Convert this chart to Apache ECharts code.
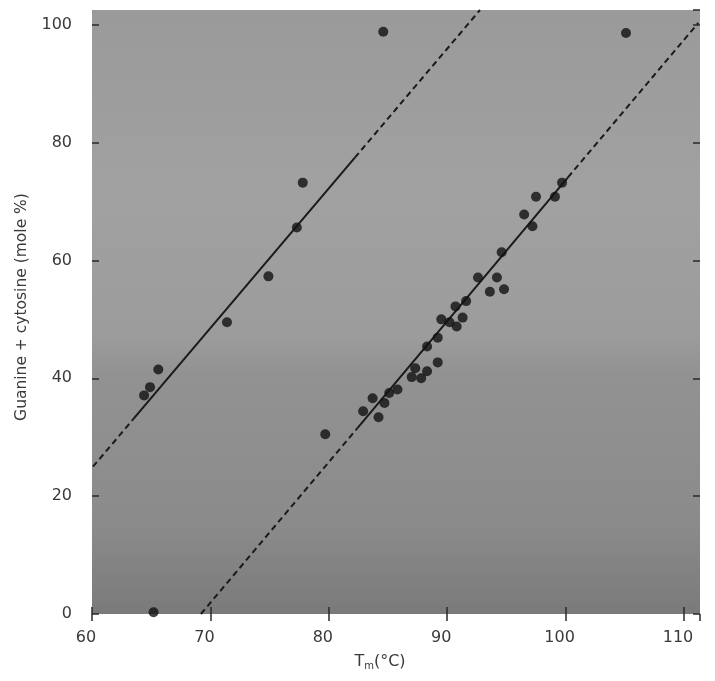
<!DOCTYPE html>
<html>
<head>
<meta charset="utf-8">
<script src="https://cdn.jsdelivr.net/npm/echarts@6/dist/echarts.min.js"></script>
<style>
html,body{margin:0;padding:0;background:#fff;}
#chart{width:715px;height:681px;}
</style>
</head>
<body>
<div id="chart"></div>
<script>
// ---- data ----
var xTicks = [60, 70, 80, 90, 100, 110];
var yTicks = [0, 20, 40, 60, 80, 100];

// points on / near the left line
var leftPoints = [
  [84.6, 98.8], [77.8, 73.2], [77.3, 65.6], [74.9, 57.3], [71.4, 49.5],
  [65.6, 41.5], [64.9, 38.5], [64.4, 37.1], [65.2, 0.3]
];
// points on / near the right line
var rightPoints = [
  [105.1, 98.6], [79.7, 30.5],
  [99.7, 73.2], [99.1, 70.8], [97.5, 70.8], [96.5, 67.8], [97.2, 65.8],
  [94.6, 61.4], [92.6, 57.1], [94.2, 57.1], [93.6, 54.7], [94.8, 55.1],
  [91.6, 53.1], [90.7, 52.2], [91.3, 50.3], [89.5, 50.0], [90.2, 49.5],
  [90.8, 48.8], [89.2, 46.9], [88.3, 45.4], [89.2, 42.7], [87.3, 41.7],
  [88.3, 41.2], [87.0, 40.2], [87.8, 40.0], [85.8, 38.1], [85.1, 37.5],
  [83.7, 36.6], [84.7, 35.8], [82.9, 34.4], [84.2, 33.4]
];

// fitted lines: dashed extrapolations and solid middle parts
var leftLineLowDash  = [[60.08, 25.0], [63.5, 33.1]];
var leftLineSolid    = [[63.5, 33.1], [82.2, 77.45]];
var leftLineHighDash = [[82.2, 77.45], [92.77, 102.5]];

var rightLineLowDash  = [[69.2, 0], [82.4, 31.5]];
var rightLineSolid    = [[82.4, 31.5], [100.2, 74.1]];
var rightLineHighDash = [[100.2, 74.1], [111.2, 100.3]];

var xName = 'T{sub|m}(°C)';
var yName = 'Guanine + cytosine (mole %)';

// ---- chart ----
var chart = echarts.init(document.getElementById('chart'), null, {renderer: 'canvas'});
var font = 'DejaVu Sans';
var textColor = '#3a3a3a';
var tickStyle = {show: true, inside: true, length: 7, lineStyle: {color: '#2a2a2a', width: 1.5}};

function lineSeries(data, dashed) {
  return {
    type: 'line', data: data, symbol: 'none', silent: true, z: 2,
    lineStyle: {color: '#1a1a1a', width: 2, type: dashed ? [6, 4] : 'solid'}
  };
}

var option = {
  backgroundColor: '#ffffff',
  animation: false,
  grid: {
    left: 92, right: 15, top: 10, bottom: 67,
    show: true, borderWidth: 0,
    backgroundColor: new echarts.graphic.LinearGradient(0, 0, 0, 1, [
      {offset: 0, color: '#9a9a9a'},
      {offset: 0.3, color: '#a1a1a1'},
      {offset: 0.54, color: '#9c9c9c'},
      {offset: 0.6, color: '#929292'},
      {offset: 0.85, color: '#8b8b8b'},
      {offset: 1, color: '#7a7a7a'}
    ])
  },
  xAxis: [{
    type: 'value', min: 60, max: 111.35, interval: 10,
    position: 'bottom',
    axisLine: {show: false},
    axisTick: tickStyle,
    splitLine: {show: false},
    axisLabel: {
      color: textColor, fontFamily: font, fontSize: 16, margin: 16,
      padding: [0, 12, 0, 0],
      showMaxLabel: false,
      formatter: function (v) { return xTicks.indexOf(v) >= 0 ? String(v) : ''; }
    },
    name: xName, nameLocation: 'middle', nameGap: 39,
    nameTextStyle: {
      color: textColor, fontFamily: font, fontSize: 16, padding: [0, 32, 0, 0],
      rich: {sub: {fontSize: 10, verticalAlign: 'bottom', padding: [8, 0, 0, 0], color: textColor, fontFamily: font}}
    }
  }, {
    type: 'value', min: 60, max: 111.35, interval: 10,
    position: 'top',
    axisLine: {show: false},
    axisTick: tickStyle,
    axisLabel: {show: false},
    splitLine: {show: false}
  }],
  yAxis: [{
    type: 'value', min: 0, max: 102.5, interval: 20,
    position: 'left',
    axisLine: {show: false},
    axisTick: tickStyle,
    splitLine: {show: false},
    axisLabel: {
      color: textColor, fontFamily: font, fontSize: 16, margin: 20,
      padding: [10, 0, 0, 0],
      showMaxLabel: false,
      formatter: function (v) { return yTicks.indexOf(v) >= 0 ? String(v) : ''; }
    },
    name: yName, nameLocation: 'middle', nameGap: 62, nameRotate: 90,
    nameTextStyle: {color: textColor, fontFamily: font, fontSize: 15.5, padding: [0, 0, 0, 10]}
  }, {
    type: 'value', min: 0, max: 102.5, interval: 20,
    position: 'right',
    axisLine: {show: false},
    axisTick: tickStyle,
    axisLabel: {show: false},
    splitLine: {show: false}
  }],
  series: [
    lineSeries(leftLineLowDash, true),
    lineSeries(leftLineSolid, false),
    lineSeries(leftLineHighDash, true),
    lineSeries(rightLineLowDash, true),
    lineSeries(rightLineSolid, false),
    lineSeries(rightLineHighDash, true),
    {
      type: 'scatter', data: leftPoints, symbol: 'circle', symbolSize: 10, z: 3,
      itemStyle: {color: '#121212'}, silent: true
    },
    {
      type: 'scatter', data: rightPoints, symbol: 'circle', symbolSize: 10, z: 3,
      itemStyle: {color: '#121212'}, silent: true
    }
  ]
};
chart.setOption(option);
</script>
</body>
</html>
